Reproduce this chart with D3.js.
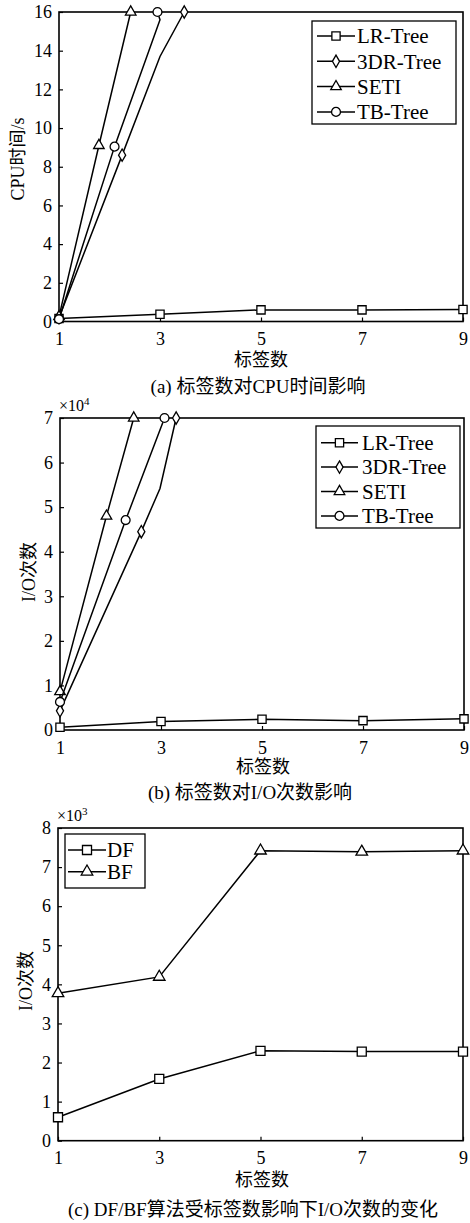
<!DOCTYPE html>
<html><head><meta charset="utf-8">
<script src="https://cdn.jsdelivr.net/npm/d3@7"></script>
<style>
html,body{margin:0;padding:0;background:#fff;}
svg{display:block;}
text{font-family:"Liberation Serif","Noto Sans CJK SC",serif;fill:#000;}
</style></head>
<body>
<svg id="chart" width="470" height="1223"></svg>
<script>
// ---------- data ----------
const xTickValues = [1, 3, 5, 7, 9];
const cpuTicks = [0, 2, 4, 6, 8, 10, 12, 14, 16];
const ioTicksB = [0, 1, 2, 3, 4, 5, 6, 7];
const ioTicksC = [0, 1, 2, 3, 4, 5, 6, 7, 8];

// (a) CPU time (s)
const lrCpuX = [1, 3, 5, 7, 9];
const lrCpu = [0.15, 0.37, 0.6, 0.6, 0.62];
const dr3CpuX = [1, 2.25, 3, 3.48];
const dr3Cpu = [0.2, 8.6, 13.7, 16];
const dr3CpuMarks = [0, 1, 3];
const setiCpuX = [1, 1.79, 2.42];
const setiCpu = [0.25, 9.1, 16];
const tbCpuX = [1, 2.1, 3, 2.95];
const tbCpu = [0.12, 9.04, 15.6, 16];
const tbCpuMarks = [0, 1, 3];

// (b) I/O count (x10^4)
const lrIoX = [1, 3, 5, 7, 9];
const lrIo = [0.06, 0.19, 0.24, 0.21, 0.25];
const dr3IoX = [1, 2.61, 2.98, 3.3];
const dr3Io = [0.43, 4.45, 5.42, 7.0];
const dr3IoMarks = [0, 1, 3];
const setiIoX = [1, 1.92, 2.46];
const setiIo = [0.86, 4.8, 7.0];
const tbIoX = [1, 2.3, 3.07];
const tbIo = [0.63, 4.71, 7.0];

// (c) DF/BF I/O count (x10^3)
const dfBfX = [1, 3, 5, 7, 9];
const dfIo = [0.6, 1.58, 2.3, 2.28, 2.28];
const bfIo = [3.77, 4.19, 7.42, 7.39, 7.42];

const seriesNamesAB = ["LR-Tree", "3DR-Tree", "SETI", "TB-Tree"];
const seriesNamesC = ["DF", "BF"];

// ---------- drawing ----------
const svg = d3.select("#chart");
const cjk = '"Liberation Serif","Noto Sans CJK SC",serif';

const symbolOf = {
  square: d3.symbolSquare, diamond: d3.symbolDiamond,
  triangle: d3.symbolTriangle, circle: d3.symbolCircle
};
const sizeOf = { square: 68, diamond: 44, triangle: 48, circle: 62 };

function zipPts(xs, ys) { return xs.map((x, i) => [x, ys[i]]); }

function drawPanel(cfg) {
  const g = svg.append("g");
  const x = d3.scaleLinear().domain([1, 9]).range([cfg.left, cfg.right]);
  const y = d3.scaleLinear().domain(cfg.yDomain).range([cfg.bottom, cfg.top]);

  // axes
  const ax = g.append("g").attr("transform", `translate(0,${cfg.bottom})`)
    .call(d3.axisBottom(x).tickValues(xTickValues).tickSize(-4).tickPadding(11).tickFormat(d3.format("d")));
  const ay = g.append("g").attr("transform", `translate(${cfg.left},0)`)
    .call(d3.axisLeft(y).tickValues(cfg.yTicks).tickSize(-4).tickPadding(7).tickFormat(d3.format("d")));
  [ax, ay].forEach(a => {
    a.select(".domain").remove();
    a.selectAll(".tick line").attr("stroke", "#000").attr("stroke-width", 1.2);
    a.selectAll(".tick text").attr("font-family", cjk).attr("font-size", 18).attr("fill", "#000");
  });

  // frame
  g.append("rect").attr("x", cfg.left).attr("y", cfg.top)
    .attr("width", cfg.right - cfg.left).attr("height", cfg.bottom - cfg.top)
    .attr("fill", "none").attr("stroke", "#000").attr("stroke-width", 1.6);

  const line = d3.line().x(d => x(d[0])).y(d => y(d[1]));
  cfg.series.forEach(s => {
    const pts = zipPts(s.xs, s.ys);
    g.append("path").attr("d", line(pts)).attr("fill", "none")
      .attr("stroke", "#000").attr("stroke-width", 1.5);
    const marks = s.marks ? s.marks.map(i => pts[i]) : pts;
    g.selectAll(null).data(marks).enter().append("path")
      .attr("d", d3.symbol().type(symbolOf[s.shape]).size(sizeOf[s.shape] * cfg.mscale))
      .attr("transform", d => `translate(${x(d[0])},${y(d[1])})`)
      .attr("fill", "#fff").attr("stroke", "#000").attr("stroke-width", 1.3);
  });

  // legend
  const L = cfg.legend;
  g.append("rect").attr("x", L.x0).attr("y", L.y0).attr("width", L.x1 - L.x0)
    .attr("height", L.y1 - L.y0).attr("fill", "#fff").attr("stroke", "#000").attr("stroke-width", 1.3);
  cfg.series.forEach((s, i) => {
    const yy = L.rowY + i * L.rowH;
    g.append("line").attr("x1", L.lx0).attr("x2", L.lx1).attr("y1", yy).attr("y2", yy)
      .attr("stroke", "#000").attr("stroke-width", 1.5);
    g.append("path")
      .attr("d", d3.symbol().type(symbolOf[s.shape]).size(sizeOf[s.shape] * cfg.mscale)())
      .attr("transform", `translate(${(L.lx0 + L.lx1) / 2},${yy})`)
      .attr("fill", "#fff").attr("stroke", "#000").attr("stroke-width", 1.3);
    g.append("text").attr("x", L.tx).attr("y", yy).attr("dy", "0.35em")
      .attr("font-size", L.fs).text(s.name);
  });

  // labels
  g.append("text").attr("transform", `translate(${cfg.ylabX},${cfg.ylabY}) rotate(-90)`)
    .attr("text-anchor", "middle").attr("dy", "0.35em").attr("font-size", 18).text(cfg.ylabel);
  g.append("text").attr("x", cfg.xlabX).attr("y", cfg.xlabY).attr("text-anchor", "middle")
    .attr("dy", "0.35em").attr("font-size", 18).text("标签数");
  g.append("text").attr("x", cfg.capX).attr("y", cfg.capY).attr("text-anchor", "middle")
    .attr("dy", "0.35em").attr("font-size", 19).text(cfg.caption);
  if (cfg.exp) {
    const t = g.append("text").attr("x", cfg.left - 1).attr("y", cfg.top - 7).attr("font-size", 16);
    t.append("tspan").text("×10");
    t.append("tspan").attr("dy", -6).attr("font-size", 11).text(cfg.exp);
  }
}

drawPanel({
  left: 59, right: 463, top: 12, bottom: 321.5, yDomain: [0, 16], yTicks: cpuTicks, mscale: 1,
  series: [
    { name: seriesNamesAB[0], shape: "square", xs: lrCpuX, ys: lrCpu },
    { name: seriesNamesAB[1], shape: "diamond", xs: dr3CpuX, ys: dr3Cpu, marks: dr3CpuMarks },
    { name: seriesNamesAB[2], shape: "triangle", xs: setiCpuX, ys: setiCpu },
    { name: seriesNamesAB[3], shape: "circle", xs: tbCpuX, ys: tbCpu, marks: tbCpuMarks }
  ],
  legend: { x0: 312, x1: 456, y0: 21, y1: 124, rowY: 36, rowH: 25.3, lx0: 317, lx1: 355, tx: 357, fs: 21 },
  ylabel: "CPU时间/s", ylabX: 18, ylabY: 159,
  xlabX: 261, xlabY: 360, caption: "(a) 标签数对CPU时间影响", capX: 258, capY: 386
});

drawPanel({
  left: 60, right: 464, top: 418, bottom: 730, yDomain: [0, 7], yTicks: ioTicksB, mscale: 1,
  series: [
    { name: seriesNamesAB[0], shape: "square", xs: lrIoX, ys: lrIo },
    { name: seriesNamesAB[1], shape: "diamond", xs: dr3IoX, ys: dr3Io, marks: dr3IoMarks },
    { name: seriesNamesAB[2], shape: "triangle", xs: setiIoX, ys: setiIo },
    { name: seriesNamesAB[3], shape: "circle", xs: tbIoX, ys: tbIo }
  ],
  legend: { x0: 316, x1: 460, y0: 426, y1: 528, rowY: 442.7, rowH: 24.4, lx0: 321, lx1: 358, tx: 362, fs: 21 },
  ylabel: "I/O次数", ylabX: 29, ylabY: 572, exp: "4",
  xlabX: 263, xlabY: 767, caption: "(b) 标签数对I/O次数影响", capX: 250, capY: 792
});

drawPanel({
  left: 58, right: 463, top: 828, bottom: 1140.7, yDomain: [0, 8], yTicks: ioTicksC, mscale: 1.2,
  series: [
    { name: seriesNamesC[0], shape: "square", xs: dfBfX, ys: dfIo },
    { name: seriesNamesC[1], shape: "triangle", xs: dfBfX, ys: bfIo }
  ],
  legend: { x0: 65, x1: 145, y0: 834, y1: 888, rowY: 850, rowH: 21.7, lx0: 68, lx1: 106, tx: 107, fs: 21 },
  ylabel: "I/O次数", ylabX: 26, ylabY: 981, exp: "3",
  xlabX: 262, xlabY: 1180, caption: "(c) DF/BF算法受标签数影响下I/O次数的变化", capX: 253, capY: 1209
});
</script>
</body></html>
